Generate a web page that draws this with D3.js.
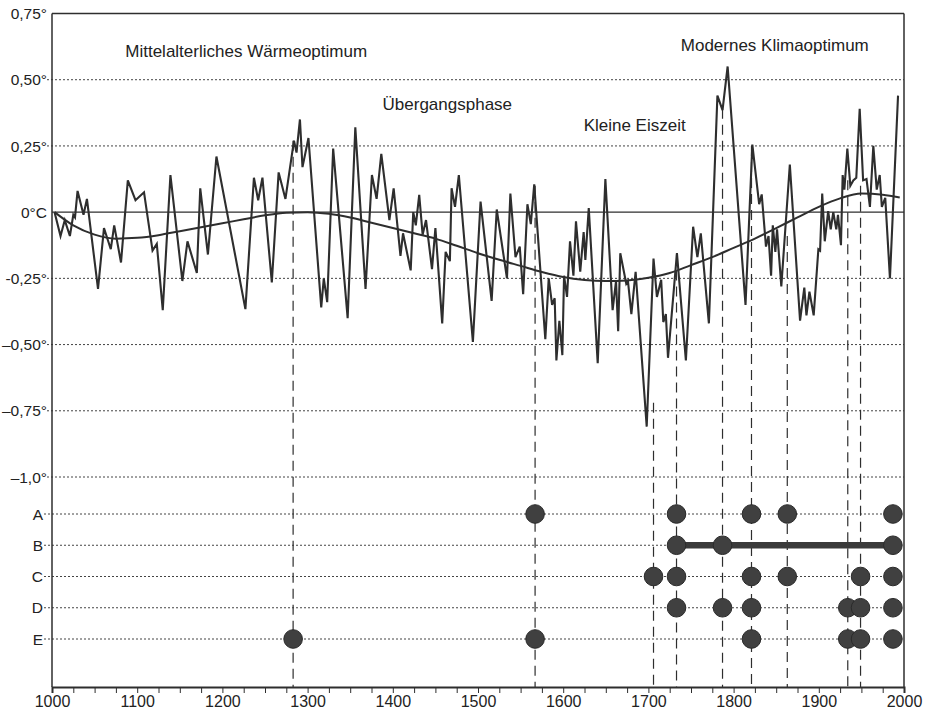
<!DOCTYPE html>
<html><head><meta charset="utf-8">
<script src="https://cdn.jsdelivr.net/npm/d3@7"></script>
<style>
html,body{margin:0;padding:0;background:#fff;}
svg{display:block;font-family:"Liberation Sans",Arial,sans-serif;}
</style></head>
<body><svg id="c" width="927" height="713"></svg>
<script>
// ---- data ----
const years = [1003,1010,1015,1021,1025,1027,1030,1037,1041,1054,1061,1069,1073,1081,1089,1098,1108,1118,1123,1130,1139,1153,1159,1170,1174,1183,1193,1227,1237,1242,1247,1258,1266,1274,1284,1287,1291,1294,1301,1316,1319,1323,1330,1347,1356,1368,1375.5,1381,1386.5,1396,1401,1409,1412,1421,1424,1427,1431,1435,1439,1446,1450,1458,1462,1467,1469,1473,1477.5,1494,1503,1516,1522,1534,1538,1544,1549,1553,1558,1562,1566,1579,1583,1587,1590,1592,1595.5,1599,1601,1604.5,1608,1612,1615,1620,1624,1626,1630,1640.5,1649.5,1658,1662,1664.5,1667,1674,1676,1680,1685,1698,1706,1710,1715,1717.5,1720.5,1723,1733.5,1744,1752.5,1757.5,1761.5,1771,1781,1787,1793,1814,1822,1830,1833,1838,1841,1844,1846,1849,1851,1856,1866,1878,1883,1885.5,1889,1894,1899.5,1901.5,1904,1907,1911,1914,1917,1920.5,1922.5,1926,1928,1930,1933.5,1937,1940.5,1944,1948,1952,1956,1960,1964,1968,1971.5,1974,1978,1983.5,1993];
const temps = [0,-0.09,-0.03,-0.09,-0.01,-0.02,0.08,-0.01,0.05,-0.29,-0.06,-0.14,-0.05,-0.19,0.12,0.045,0.075,-0.145,-0.12,-0.37,0.14,-0.26,-0.11,-0.23,0.09,-0.16,0.21,-0.366,0.13,0.045,0.13,-0.265,0.15,0.05,0.27,0.225,0.35,0.17,0.28,-0.36,-0.25,-0.34,0.24,-0.40,0.32,-0.29,0.14,0.05,0.22,-0.03,0.09,-0.165,-0.08,-0.22,0,-0.05,0.065,-0.085,-0.03,-0.215,-0.06,-0.42,-0.15,-0.185,0.09,0.02,0.14,-0.49,0.04,-0.335,0.01,-0.25,0.07,-0.17,-0.13,-0.31,0.03,-0.045,0.105,-0.48,-0.25,-0.35,-0.325,-0.56,-0.41,-0.54,-0.24,-0.32,-0.11,-0.24,-0.035,-0.225,-0.075,-0.18,0.015,-0.57,0.125,-0.37,-0.26,-0.45,-0.155,-0.27,-0.26,-0.385,-0.225,-0.81,-0.175,-0.32,-0.255,-0.415,-0.385,-0.55,-0.155,-0.56,-0.055,-0.17,-0.08,-0.42,0.44,0.385,0.55,-0.35,0.255,0.03,0.067,-0.13,-0.09,-0.24,-0.05,-0.15,-0.065,-0.28,0.18,-0.41,-0.285,-0.39,-0.30,-0.39,-0.14,-0.145,0.07,-0.11,0.004,-0.065,0,-0.065,-0.01,-0.125,0.14,0.085,0.24,0.1,0.12,0.13,0.39,0.12,0.125,0.02,0.25,0.085,0.14,0.02,0.054,-0.25,0.44];

const smoothYears = [1003,1025,1050,1075,1100,1125,1150,1175,1200,1225,1250,1275,1300,1325,1350,1375,1400,1425,1450,1475,1500,1525,1550,1575,1600,1625,1650,1675,1700,1725,1750,1775,1800,1825,1850,1875,1900,1925,1950,1975,1995];
const smoothTemps = [0,-0.05,-0.085,-0.10,-0.097,-0.087,-0.072,-0.057,-0.042,-0.027,-0.012,-0.002,0,-0.006,-0.02,-0.04,-0.06,-0.08,-0.10,-0.127,-0.155,-0.18,-0.203,-0.226,-0.245,-0.256,-0.26,-0.258,-0.248,-0.23,-0.2,-0.17,-0.135,-0.1,-0.06,-0.02,0.02,0.052,0.07,0.066,0.055];

const yTicks = [0.75,0.5,0.25,0,-0.25,-0.5,-0.75,-1.0];
const yTickLabels = ["0,75°","0,50°","0,25°","0°C","-0,25°","–0,50°","–0,75°","–1,0°"];
const xTickYears = [1000,1100,1200,1300,1400,1500,1600,1700,1800,1900,2000];
const xMinorStep = 25;

const rows = ["A","B","C","D","E"];
const rowA = [1567,1733,1821,1863,1987];
const rowB = [1733,1787,1987];
const rowC = [1706,1733,1821,1863,1949,1987];
const rowD = [1733,1787,1821,1934,1949,1987];
const rowE = [1283,1567,1821,1934,1949,1987];
const rowBSpan = [1733,1987];

const dropYears = [1283,1567,1706,1733,1787,1821,1863,1934,1949];
const dropTops  = [0.27,0.10,-0.72,-0.16,0.39,0.25,-0.09,0.12,0.10];

const eraLabels = ["Mittelalterliches Wärmeoptimum","Übergangsphase","Kleine Eiszeit","Modernes Klimaoptimum"];

// ---- drawing ----
const svg = d3.select("#c");
const ink = "#2e2e2e";
const x = d3.scaleLinear().domain([1000,2000]).range([52,904]);
const y = d3.scaleLinear().domain([-1,0.75]).range([477,13.5]);
const ry = d3.scalePoint().domain(rows).range([514,639]);
const bottomY = 687;

// gridlines (dotted)
yTicks.forEach((t,i)=>{
  if (t===0.75) return;
  svg.append("line").attr("x1", t===0 ? x(1000) : 47).attr("x2",x(2000)).attr("y1",y(t)).attr("y2",y(t))
    .attr("stroke", t===0 ? ink : "#444").attr("stroke-width", t===0?1.2:1)
    .attr("stroke-dasharray", t===0 ? null : "2,2");
});
rows.forEach(r=>{
  svg.append("line").attr("x1",44).attr("x2",x(2000)).attr("y1",ry(r)).attr("y2",ry(r))
    .attr("stroke","#444").attr("stroke-width",1).attr("stroke-dasharray","2,2");
});

// y labels
svg.append("g").selectAll("text").data(yTicks).join("text")
  .attr("x",47).attr("y",d=>y(d)).attr("dy","0.36em").attr("text-anchor","end")
  .attr("font-size",15.5).attr("fill","#222").text((d,i)=>yTickLabels[i]);
svg.append("g").selectAll("text").data(rows).join("text")
  .attr("x",43).attr("y",d=>ry(d)).attr("dy","0.36em").attr("text-anchor","end")
  .attr("font-size",15.5).attr("fill","#222").text(d=>d);

// drop lines (dashed)
dropYears.forEach((yr,i)=>{
  svg.append("line").attr("x1",x(yr)).attr("x2",x(yr)).attr("y1",y(dropTops[i])).attr("y2",bottomY)
    .attr("stroke",ink).attr("stroke-width",1.2).attr("stroke-dasharray","10,6");
});

// frame
svg.append("line").attr("x1",x(1000)).attr("x2",x(2000)).attr("y1",y(0.75)).attr("y2",y(0.75)).attr("stroke",ink).attr("stroke-width",1.5);
svg.append("line").attr("x1",x(1000)).attr("x2",x(1000)).attr("y1",y(0.75)).attr("y2",bottomY).attr("stroke",ink).attr("stroke-width",1.5);
svg.append("line").attr("x1",x(2000)).attr("x2",x(2000)).attr("y1",y(0.75)).attr("y2",bottomY).attr("stroke",ink).attr("stroke-width",1.5);

// x axis
const xAxis = d3.axisBottom(x).tickValues(d3.range(1000,2001,xMinorStep)).tickSize(6)
  .tickFormat(d=> xTickYears.includes(d) ? String(d) : "");
const gx = svg.append("g").attr("transform",`translate(0,${bottomY})`).call(xAxis);
gx.select(".domain").attr("stroke",ink).attr("stroke-width",2);
gx.selectAll(".tick line").attr("stroke",ink).attr("stroke-width",1);
gx.selectAll(".tick text").attr("font-size",16).attr("fill","#222")
  .attr("font-family","'Liberation Sans',Arial,sans-serif").attr("y",8).attr("dy","0.72em");

// smooth curve
svg.append("path").datum(smoothYears.map((d,i)=>[d,smoothTemps[i]]))
  .attr("d", d3.line().x(d=>x(d[0])).y(d=>y(d[1])).curve(d3.curveMonotoneX))
  .attr("fill","none").attr("stroke",ink).attr("stroke-width",2);

// temperature series
svg.append("path").datum(years.map((d,i)=>[d,temps[i]]))
  .attr("d", d3.line().x(d=>x(d[0])).y(d=>y(d[1])))
  .attr("fill","none").attr("stroke",ink).attr("stroke-width",2.1).attr("stroke-linejoin","miter");

// row B bar
svg.append("line").attr("x1",x(rowBSpan[0])).attr("x2",x(rowBSpan[1])).attr("y1",ry("B")).attr("y2",ry("B"))
  .attr("stroke","#3a3a3a").attr("stroke-width",6.5);

// dots
const rowData = {A:rowA,B:rowB,C:rowC,D:rowD,E:rowE};
rows.forEach(r=>{
  svg.append("g").selectAll("circle").data(rowData[r]).join("circle")
    .attr("cx",d=>x(d)).attr("cy",ry(r)).attr("r",9.3)
    .attr("fill","#404040").attr("stroke","#2a2a2a").attr("stroke-width",1);
});

// era labels (anchored in data coordinates)
const eraPos = [[1086,0.585],[1388,0.385],[1624,0.306],[1738,0.608]];
svg.append("g").selectAll("text").data(eraLabels).join("text")
  .attr("x",(d,i)=>x(eraPos[i][0])).attr("y",(d,i)=>y(eraPos[i][1]))
  .attr("font-size",17).attr("fill","#222").text(d=>d);
</script></body></html>
